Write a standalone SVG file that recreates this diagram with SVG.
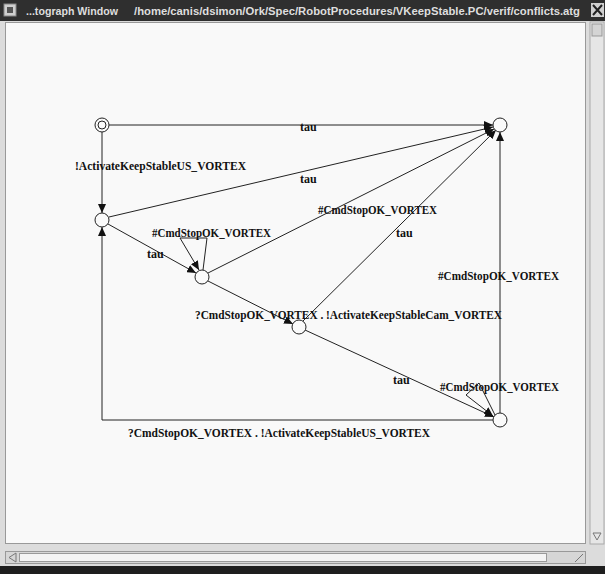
<svg xmlns="http://www.w3.org/2000/svg" width="605" height="574" viewBox="0 0 605 574">
<defs>
<marker id="ah" markerUnits="userSpaceOnUse" markerWidth="10" markerHeight="8" refX="9" refY="4" orient="auto">
<path d="M0,0 L9,4 L0,8 Z" fill="#111"/>
</marker>
</defs>
<style>
.lbl{font-family:"Liberation Serif","Times New Roman",serif;font-weight:bold;font-size:12px;fill:#111}
.edge{stroke:#222;stroke-width:1;fill:none;marker-end:url(#ah)}
.node{fill:#fafafa;stroke:#222;stroke-width:1}
.title{font-family:"Liberation Sans",Arial,sans-serif;font-size:11.5px;font-weight:bold;fill:#dedede}
</style>
<!-- window chrome -->
<rect x="0" y="0" width="605" height="574" fill="#dcdcdc"/>
<rect x="0" y="0" width="605" height="21" fill="#2f2f2f"/>
<rect x="4" y="4" width="12" height="12" fill="#cfcfcf" stroke="#888"/>
<rect x="7" y="7" width="6" height="6" fill="#555"/>
<text class="title" x="26" y="15" textLength="92" lengthAdjust="spacingAndGlyphs">...tograph Window</text>
<text class="title" x="134" y="15" textLength="446" lengthAdjust="spacingAndGlyphs">/home/canis/dsimon/Ork/Spec/RobotProcedures/VKeepStable.PC/verif/conflicts.atg</text>
<rect x="591" y="3" width="13" height="14" fill="#d0d0d0"/>
<path d="M593,5 L602,15 M602,5 L593,15" stroke="#222" stroke-width="2"/>
<!-- canvas -->
<rect x="5.5" y="22.5" width="580" height="521" fill="#f9f9f9" stroke="#999"/>
<!-- vertical scrollbar -->
<rect x="590" y="22" width="14" height="522" fill="#e6e6e6" stroke="#aaa"/>
<rect x="592" y="24" width="10" height="12" fill="#d4d4d4" stroke="#999"/>
<path d="M593,533 L601,533 L597,540 Z" fill="none" stroke="#777"/>
<!-- horizontal scrollbar -->
<rect x="5.5" y="551.5" width="580" height="12" fill="#d6d6d6" stroke="#999"/>
<rect x="19.5" y="553.5" width="527" height="8" fill="#f4f4f4" stroke="#999"/>
<path d="M16,553 L9,557.5 L16,562 Z" fill="none" stroke="#777"/>
<path d="M575,562 L583,554" stroke="#777"/>
<rect x="0" y="566" width="605" height="8" fill="#1e1e1e"/>

<g id="connectors">
<line class="edge" x1="109" y1="125" x2="493" y2="125"/>
<line class="edge" x1="102" y1="132" x2="102" y2="213"/>
<line class="edge" x1="109" y1="217" x2="493" y2="127"/>
<line class="edge" x1="108" y1="224" x2="196" y2="273"/>
<line class="edge" x1="208" y1="273" x2="494" y2="129"/>
<line class="edge" x1="208" y1="281" x2="293" y2="324"/>
<line class="edge" x1="303" y1="321" x2="496" y2="130"/>
<line class="edge" x1="305" y1="330" x2="494" y2="417"/>
<line class="edge" x1="500" y1="413" x2="500" y2="132"/>
<polyline class="edge" points="493,420 102,420 102,227"/>
<path class="edge" d="M203,270 L207,238 L180,238 L199,270" stroke-width="1.3"/>
<path class="edge" d="M495,415 L479,383 L466,395 L493,416"/>
</g>

<g id="n0"><circle class="node" cx="102" cy="125" r="7"/><circle class="node" cx="102" cy="125" r="4"/></g>
<g id="n1"><circle class="node" cx="500" cy="125" r="7"/></g>
<g id="n2"><circle class="node" cx="102" cy="220" r="7"/></g>
<g id="n3"><circle class="node" cx="202" cy="277" r="7"/></g>
<g id="n4"><circle class="node" cx="299" cy="327" r="7"/></g>
<g id="n5"><circle class="node" cx="500" cy="420" r="7"/></g>

<g id="labels">
<text class="lbl" x="300" y="131">tau</text>
<text class="lbl" x="75" y="170" textLength="171" lengthAdjust="spacingAndGlyphs">!ActivateKeepStableUS_VORTEX</text>
<text class="lbl" x="300" y="183">tau</text>
<text class="lbl" x="318" y="214" textLength="119" lengthAdjust="spacingAndGlyphs">#CmdStopOK_VORTEX</text>
<text class="lbl" x="396" y="237">tau</text>
<text class="lbl" x="152" y="237" textLength="119" lengthAdjust="spacingAndGlyphs">#CmdStopOK_VORTEX</text>
<text class="lbl" x="147" y="258">tau</text>
<text class="lbl" x="438" y="280" textLength="121" lengthAdjust="spacingAndGlyphs">#CmdStopOK_VORTEX</text>
<text class="lbl" x="195" y="319" textLength="307" lengthAdjust="spacingAndGlyphs">?CmdStopOK_VORTEX . !ActivateKeepStableCam_VORTEX</text>
<text class="lbl" x="393" y="384">tau</text>
<text class="lbl" x="440" y="391" textLength="119" lengthAdjust="spacingAndGlyphs">#CmdStopOK_VORTEX</text>
<text class="lbl" x="128" y="437" textLength="302" lengthAdjust="spacingAndGlyphs">?CmdStopOK_VORTEX . !ActivateKeepStableUS_VORTEX</text>
</g>
</svg>
